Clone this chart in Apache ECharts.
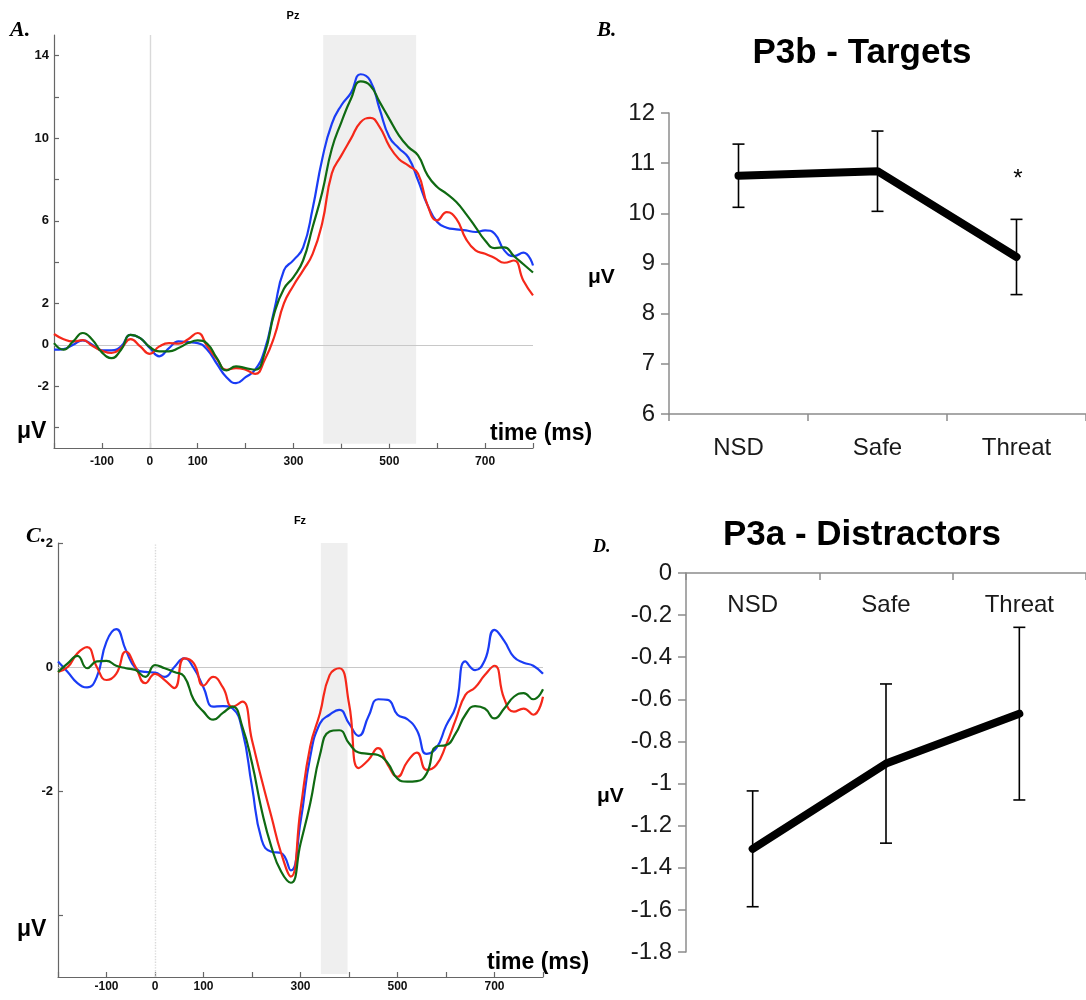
<!DOCTYPE html>
<html>
<head>
<meta charset="utf-8">
<script src="https://cdn.jsdelivr.net/npm/echarts@6/dist/echarts.min.js"></script>
<style>
html,body{margin:0;padding:0;background:#fff;}
#chart{width:1086px;height:1000px;}
</style>
</head>
<body>
<div id="chart"></div>
<script>
// ---------- data ----------
const times = [-200,-180,-160,-140,-120,-100,-80,-60,-40,-20,0,20,40,60,80,100,120,140,160,180,200,220,240,260,280,300,320,340,360,380,400,420,440,460,480,500,520,540,560,580,600,620,640,660,680,700,720,740,760,780,800];

// Panel A (Pz)
const pzBlue = [-0.24,-0.21,0.0,0.21,0.0,-0.27,-0.27,-0.08,0.48,0.32,-0.16,-0.56,-0.16,0.16,0.13,0.08,-0.24,-0.92,-1.57,-1.86,-1.57,-1.21,-0.24,1.7,3.6,4.1,4.7,6.6,9.0,10.7,11.6,12.2,13.1,12.8,11.4,10.06,9.52,9.06,7.96,6.75,5.94,5.67,5.59,5.54,5.46,5.54,5.38,4.57,4.29,4.46,3.84];
const pzRed = [0.52,0.27,0.16,0.22,-0.05,-0.29,-0.4,-0.16,0.27,-0.08,-0.44,-0.08,0.08,0.05,0.27,0.57,-0.08,-0.69,-1.21,-1.13,-1.21,-1.41,-0.73,0.4,2.0,2.87,3.6,4.4,5.9,8.3,9.17,9.98,10.78,10.99,10.54,9.62,9.0,8.68,8.28,6.75,6.02,6.42,6.1,5.13,4.57,4.41,4.2,3.97,4.08,3.1,2.39];
const pzGreen = [0.08,-0.24,0.16,0.57,0.24,-0.37,-0.65,-0.24,0.48,0.32,-0.11,-0.32,-0.32,-0.16,0.08,0.21,0.05,-0.65,-1.24,-1.05,-1.13,-1.21,-0.4,1.53,2.71,3.28,4.08,5.7,7.39,9.49,10.78,11.91,12.75,12.56,11.75,10.94,10.14,9.57,9.17,8.2,7.64,7.31,6.91,6.34,5.7,5.05,4.68,4.72,4.3,3.9,3.5];

// Panel C (Fz)
const fzBlue = [0.09,-0.08,-0.26,-0.33,-0.16,0.41,0.61,0.27,-0.02,-0.08,-0.09,-0.16,0.0,0.14,-0.02,-0.33,-0.64,-0.63,-0.67,-1.02,-1.93,-2.79,-2.98,-3.0,-3.28,-2.5,-1.45,-0.91,-0.77,-0.69,-0.91,-1.11,-0.8,-0.52,-0.53,-0.77,-0.84,-1.02,-1.4,-1.31,-0.95,-0.64,0.09,-0.05,0.11,0.6,0.42,0.16,0.07,0.02,-0.11];
const fzRed = [-0.08,0.0,0.22,0.32,0.0,-0.21,-0.11,0.25,0.0,-0.26,-0.11,-0.21,-0.34,0.14,0.06,-0.3,-0.16,-0.33,-0.64,-0.56,-1.18,-1.82,-2.41,-3.0,-3.38,-2.3,-1.28,-0.75,-0.13,-0.02,-0.59,-1.63,-1.5,-1.31,-1.58,-1.77,-1.53,-1.38,-1.66,-1.58,-1.26,-0.85,-0.45,-0.33,-0.13,0.02,-0.51,-0.72,-0.67,-0.77,-0.48];
const fzGreen = [-0.08,0.06,0.18,-0.02,0.09,0.10,0.02,-0.02,-0.05,-0.16,0.03,-0.02,-0.08,-0.15,-0.53,-0.72,-0.85,-0.74,-0.64,-0.96,-1.55,-2.31,-2.9,-3.3,-3.48,-2.85,-2.2,-1.42,-1.04,-1.02,-1.23,-1.38,-1.4,-1.42,-1.55,-1.8,-1.85,-1.84,-1.72,-1.28,-1.26,-1.07,-0.77,-0.63,-0.67,-0.83,-0.67,-0.48,-0.42,-0.52,-0.36];

// analysis windows (ms) and their vertical extent (µV)
const pzWindow = [362, 556];
const pzWindowY = [-4.8, 15];
const fzWindow = [342, 397];
const fzWindowY = [-4.95, 2];

// tick marks and labels
const timeLabels = [-100,0,100,300,500,700];
const pzTicks = [-4,-2,0,2,4,6,8,10,12,14];
const pzLabels = [-2,0,2,6,10,14];
const fzTicks = [-4,-2,0,2];
const fzLabels = [-2,0,2];

// Panels B and D
const conditions = ['NSD','Safe','Threat'];
const p3bMean = [10.75, 10.84, 9.13];
const p3bErr = [0.63, 0.80, 0.75];
const p3aMean = [-1.31, -0.905, -0.668];
const p3aErr = [0.275, 0.378, 0.41];

// ---------- chart ----------
const SANS = '"Liberation Sans", Arial, Helvetica, sans-serif';
const SERIF = '"Liberation Serif", "Times New Roman", serif';
const BLUE = '#1a3cf5', RED = '#f5281a', GREEN = '#0f6a12';
const AXC = '#666';

function pairs(arr){ return times.map((t,i)=>[t, arr[i]]); }
function errData(mean, err){ return mean.map((m,i)=>[i, m-err[i], m+err[i]]); }

function erpXAxis(grid){
  return {
    gridIndex: grid, type:'value', min:-200, max:800, interval:100,
    axisLine:{show:true, onZero:false, lineStyle:{color:AXC, width:1.2}},
    axisTick:{show:true, inside:true, length:5, lineStyle:{color:AXC, width:1.2}},
    axisLabel:{showMinLabel:true, showMaxLabel:true,
      formatter:function(v){ return timeLabels.indexOf(v) >= 0 ? String(v) : ''; },
      fontFamily:SANS, fontWeight:'bold', fontSize:12, color:'#111', margin: grid===0 ? 8 : 4},
    splitLine:{show:false}
  };
}
// axis carrying line + ticks (used by the series)
function erpYAxisTicks(grid, min, max, ticks){
  return {
    gridIndex: grid, type:'value', min:min, max:max, position:'left', offset:0,
    axisLine:{show:true, onZero:false, lineStyle:{color:AXC, width:1.2}},
    axisTick:{show:true, inside:true, length:5, customValues: ticks, lineStyle:{color:AXC, width:1.2}},
    axisLabel:{show:false},
    splitLine:{show:false}
  };
}
// overlay axis carrying only the labels
function erpYAxisLabels(grid, min, max, labels){
  return {
    gridIndex: grid, type:'value', min:min, max:max, position:'left', offset:0,
    axisLine:{show:false, onZero:false}, axisTick:{show:false},
    axisLabel:{customValues: labels, fontFamily:SANS, fontWeight:'bold', fontSize:13, color:'#111', margin:5},
    splitLine:{show:false}
  };
}
function erpLine(name, arr, color, idx, markers){
  const s = {
    name:name, type:'line', xAxisIndex:idx, yAxisIndex:idx,
    data: pairs(arr), showSymbol:false, symbol:'none', smooth:0.5, z:3,
    lineStyle:{color:color, width:2.2}, itemStyle:{color:color}, silent:true
  };
  if (markers) Object.assign(s, markers);
  return s;
}
function markers(win, winY, dotted){
  return {
    markArea:{silent:true, z:1, itemStyle:{color:'#efefef'}, label:{show:false},
      data:[[{xAxis:win[0], yAxis:winY[0]},{xAxis:win[1], yAxis:winY[1]}]]},
    markLine:{silent:true, z:1.5, symbol:'none', animation:false, label:{show:false},
      data:[
        {yAxis:0, lineStyle:{color:'#c8c8c8', width:1, type:'solid'}},
        {xAxis:0, lineStyle:{color:'#d9d9d9', width:1.4, type: dotted ? 'dotted' : 'solid'}}
      ]}
  };
}
function errSeries(idx, mean, err){
  return {
    type:'custom', xAxisIndex:idx, yAxisIndex:idx, z:4, silent:true,
    data: errData(mean, err),
    encode:{x:0, y:[1,2]},
    renderItem:function(params, api){
      const x = api.value(0);
      const lo = api.coord([x, api.value(1)]);
      const hi = api.coord([x, api.value(2)]);
      const h = 6, st = {stroke:'#000', lineWidth:1.6};
      return {type:'group', children:[
        {type:'line', shape:{x1:lo[0], y1:lo[1], x2:hi[0], y2:hi[1]}, style:st},
        {type:'line', shape:{x1:lo[0]-h, y1:lo[1], x2:lo[0]+h, y2:lo[1]}, style:st},
        {type:'line', shape:{x1:hi[0]-h, y1:hi[1], x2:hi[0]+h, y2:hi[1]}, style:st}
      ]};
    }
  };
}
function catXAxis(grid, margin, top){
  return {
    gridIndex:grid, type:'category', data:conditions, boundaryGap:true,
    position: top ? 'top' : 'bottom',
    axisLine:{show:true, onZero:false, lineStyle:{color:'#8c8c8c', width:1.5}},
    axisTick:{show:true, inside: !!top, length:7, alignWithLabel:false, interval:0, lineStyle:{color:'#8c8c8c', width:1.5}},
    axisLabel:{interval:0, inside: !!top, fontFamily:SANS, fontSize:24, color:'#1a1a1a', margin:margin},
    splitLine:{show:false}
  };
}
function meanYAxis(grid, min, max, interval){
  return {
    gridIndex:grid, type:'value', min:min, max:max, interval:interval, position:'left',
    axisLine:{show:true, onZero:false, lineStyle:{color:'#8c8c8c', width:1.5}},
    axisTick:{show:true, length:8, lineStyle:{color:'#8c8c8c', width:1.5}},
    axisLabel:{fontFamily:SANS, fontSize:24, color:'#1a1a1a', margin:14},
    splitLine:{show:false}
  };
}
function meanLine(idx, mean){
  return {type:'line', xAxisIndex:idx, yAxisIndex:idx, data:mean, symbol:'none', showSymbol:false, z:3, silent:true,
    lineStyle:{color:'#000', width:8, cap:'round', join:'round'}};
}
function txt(text, x, y, font, align){
  return {type:'text', x:x, y:y, silent:true, z:10,
    style:{text:text, font:font, fill:'#000', textAlign:align||'left', textVerticalAlign:'middle'}};
}

const option = {
  animation:false,
  backgroundColor:'#fff',
  textStyle:{fontFamily:SANS},
  grid:[
    {left:54, top:35, width:479, height:413},
    {left:58, top:543, width:485, height:434},
    {left:669, top:113, width:420, height:301},
    {left:686, top:573, width:405, height:379}
  ],
  xAxis:[
    erpXAxis(0), erpXAxis(1), catXAxis(2, 22, false), catXAxis(3, 20, true)
  ],
  yAxis:[
    erpYAxisTicks(0, -5, 15, pzTicks),
    erpYAxisTicks(1, -5, 2, fzTicks),
    meanYAxis(2, 6, 12, 1),
    meanYAxis(3, -1.8, 0, 0.2),
    erpYAxisLabels(0, -5, 15, pzLabels),
    erpYAxisLabels(1, -5, 2, fzLabels)
  ],
  series:[
    erpLine('Pz blue', pzBlue, BLUE, 0, markers(pzWindow, pzWindowY, false)),
    erpLine('Pz red', pzRed, RED, 0),
    erpLine('Pz green', pzGreen, GREEN, 0),
    erpLine('Fz blue', fzBlue, BLUE, 1, markers(fzWindow, fzWindowY, true)),
    erpLine('Fz red', fzRed, RED, 1),
    erpLine('Fz green', fzGreen, GREEN, 1),
    meanLine(2, p3bMean), errSeries(2, p3bMean, p3bErr),
    meanLine(3, p3aMean), errSeries(3, p3aMean, p3aErr)
  ],
  graphic:[
    txt('A.', 10, 30, 'italic bold 22px ' + SERIF),
    txt('Pz', 293, 16, 'bold 11px ' + SANS, 'center'),
    txt('μV', 17, 432, 'bold 23px ' + SANS),
    txt('time (ms)', 490, 434, 'bold 23px ' + SANS),
    txt('B.', 597, 31, 'italic bold 21px ' + SERIF),
    txt('P3b - Targets', 862, 53, 'bold 35px ' + SANS, 'center'),
    txt('μV', 588, 277, 'bold 21px ' + SANS),
    txt('*', 1018, 179, '24px ' + SANS, 'center'),
    txt('C.', 26, 536, 'italic bold 22px ' + SERIF),
    txt('Fz', 300, 521, 'bold 11px ' + SANS, 'center'),
    txt('μV', 17, 930, 'bold 23px ' + SANS),
    txt('time (ms)', 487, 963, 'bold 23px ' + SANS),
    txt('D.', 593, 547, 'italic bold 18px ' + SERIF),
    txt('P3a - Distractors', 862, 535, 'bold 35px ' + SANS, 'center'),
    txt('μV', 597, 796, 'bold 21px ' + SANS)
  ]
};

const chart = echarts.init(document.getElementById('chart'), null, {renderer:'canvas'});
chart.setOption(option);
</script>
</body>
</html>
